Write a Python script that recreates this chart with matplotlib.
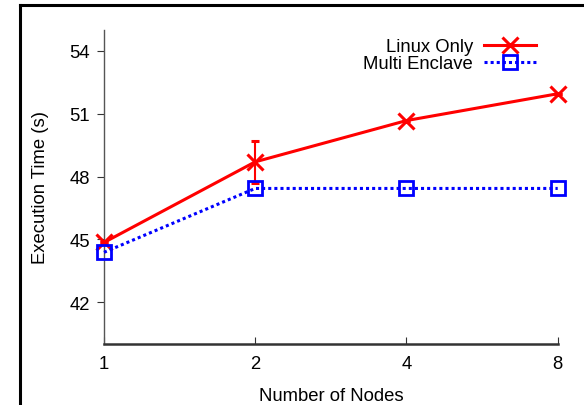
import matplotlib
matplotlib.use("Agg")
import matplotlib.pyplot as plt
from matplotlib.lines import Line2D

nodes = [1, 2, 4, 8]
linux_only = [44.85, 48.7, 50.67, 51.95]
linux_err = [0.0, 1.0, 0.0, 0.0]
multi_enclave = [44.38, 47.43, 47.43, 47.43]
yticks = [42, 45, 48, 51, 54]

plt.rcParams['font.family'] = ['Liberation Sans', 'DejaVu Sans']
FS = 13.3

fig = plt.figure(figsize=(5.84, 4.06), dpi=100)
ax = fig.add_axes([0.178, 0.150, 0.777, 0.774])

ax.errorbar(nodes, linux_only, yerr=linux_err, color='#ff0000', lw=2.2,
            marker='x', markersize=11, markeredgewidth=2.2, capsize=3,
            elinewidth=1.5, label='Linux Only', clip_on=False, zorder=3)
ax.plot(nodes, multi_enclave, color='#0000ff', lw=2.2, linestyle=(0, (1, 1)),
        marker='s', markersize=10, markerfacecolor='none', markeredgewidth=2.0,
        label='Multi Enclave', clip_on=False, zorder=4)

ax.set_xscale('log', base=2)
ax.set_xlim(1, 8)
ax.set_ylim(40, 55)
ax.set_xticks(nodes)
ax.set_xticklabels([str(n) for n in nodes])
ax.minorticks_off()
ax.set_yticks(yticks)
ax.tick_params(axis='x', direction='in', length=5, labelsize=FS, pad=8, color='#333333')
ax.tick_params(axis='y', direction='out', length=5, labelsize=FS, pad=5, color='#333333')

for s in ['top', 'right']:
    ax.spines[s].set_visible(False)
ax.spines['left'].set_color('#555555')
ax.spines['left'].set_linewidth(1.0)
ax.spines['bottom'].set_color('#333333')
ax.spines['bottom'].set_linewidth(1.8)

ax.set_xlabel('Number of Nodes', fontsize=FS, labelpad=11)
ax.set_ylabel('Execution Time (s)', fontsize=FS, labelpad=15)

h1 = Line2D([], [], color='#ff0000', lw=2.2, marker='x', markersize=11, markeredgewidth=2.2)
h2 = Line2D([], [], color='#0000ff', lw=2.2, linestyle=(0, (1, 1)), marker='s',
            markersize=10, markerfacecolor='none', markeredgewidth=2.0)
ax.legend([h1, h2], ['Linux Only', 'Multi Enclave'], loc='upper right',
          bbox_to_anchor=(0.98, 1.015), markerfirst=False, frameon=False,
          fontsize=FS, handlelength=2.8, handletextpad=0.6, labelspacing=0.0,
          borderpad=0.2)

# outer frame
fig.add_artist(Line2D([20/584, 20/584], [0, 1 - 6/406], transform=fig.transFigure, color='black', lw=2.2))
fig.add_artist(Line2D([20/584, 1], [1 - 6/406, 1 - 6/406], transform=fig.transFigure, color='black', lw=2.2))

fig.savefig('out.png', dpi=100)
